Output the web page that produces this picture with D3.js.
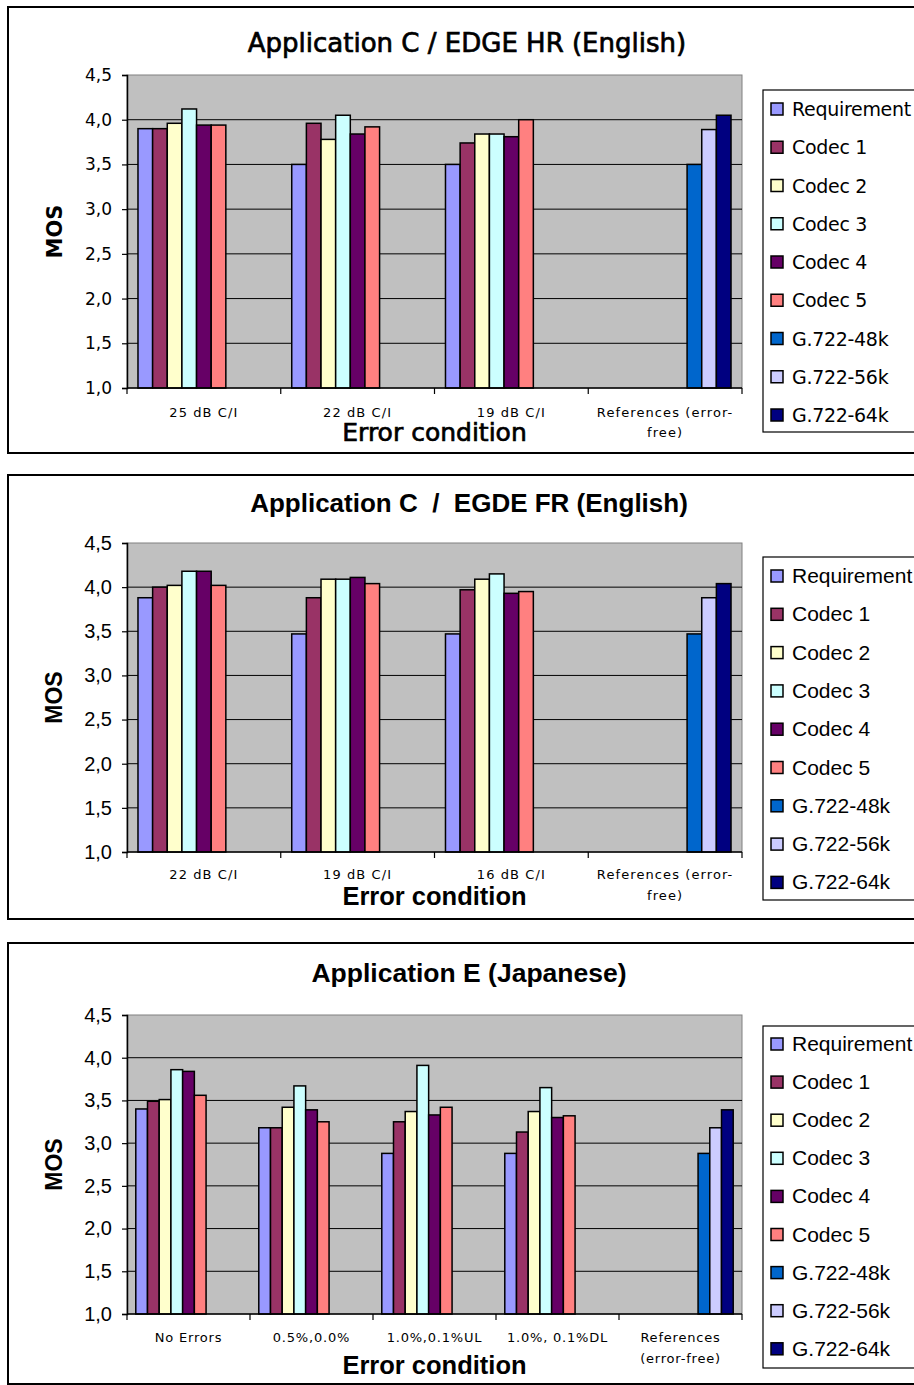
<!DOCTYPE html>
<html><head><meta charset="utf-8">
<script src="https://cdnjs.cloudflare.com/ajax/libs/d3/7.8.5/d3.min.js"></script>
<style>body{margin:0;background:#fff}svg{display:block}</style>
</head><body><svg id="c" width="914" height="1385"></svg>
<script>
// ---------- DATA ----------
const seriesNames = ["Requirement","Codec 1","Codec 2","Codec 3","Codec 4","Codec 5","G.722-48k","G.722-56k","G.722-64k"];
const seriesColors = ["#9999FF","#993366","#FFFFCC","#CCFFFF","#660066","#FF8080","#0066CC","#CCCCFF","#000080"];
const yTickValues = [1.0,1.5,2.0,2.5,3.0,3.5,4.0,4.5];

const chart1Title = "Application C / EDGE HR (English)";
const chart1Categories = ["25 dB C/I","22 dB C/I","19 dB C/I","References (error-free)"];
const chart1Labels = [["25 dB C/I"],["22 dB C/I"],["19 dB C/I"],["References (error-","free)"]];
const chart1Values = [ // rows = series, columns = categories
  [3.90, 3.50, 3.50, null],
  [3.90, 3.96, 3.74, null],
  [3.96, 3.78, 3.84, null],
  [4.12, 4.05, 3.84, null],
  [3.94, 3.84, 3.81, null],
  [3.94, 3.92, 4.00, null],
  [null, null, null, 3.50],
  [null, null, null, 3.89],
  [null, null, null, 4.05]
];

const chart2Title = "Application C  /  EGDE FR (English)";
const chart2Categories = ["22 dB C/I","19 dB C/I","16 dB C/I","References (error-free)"];
const chart2Labels = [["22 dB C/I"],["19 dB C/I"],["16 dB C/I"],["References (error-","free)"]];
const chart2Values = [
  [3.88, 3.47, 3.47, null],
  [4.00, 3.88, 3.97, null],
  [4.02, 4.09, 4.09, null],
  [4.18, 4.09, 4.15, null],
  [4.18, 4.11, 3.93, null],
  [4.02, 4.04, 3.95, null],
  [null, null, null, 3.47],
  [null, null, null, 3.88],
  [null, null, null, 4.04]
];

const chart3Title = "Application E (Japanese)";
const chart3Categories = ["No Errors","0.5%,0.0%","1.0%,0.1%UL","1.0%, 0.1%DL","References (error-free)"];
const chart3Labels = [["No Errors"],["0.5%,0.0%"],["1.0%,0.1%UL"],["1.0%, 0.1%DL"],["References","(error-free)"]];
const chart3Values = [
  [3.40, 3.18, 2.88, 2.88, null],
  [3.49, 3.18, 3.25, 3.13, null],
  [3.51, 3.42, 3.37, 3.37, null],
  [3.86, 3.67, 3.91, 3.65, null],
  [3.84, 3.39, 3.33, 3.30, null],
  [3.56, 3.25, 3.42, 3.32, null],
  [null, null, null, null, 2.88],
  [null, null, null, null, 3.18],
  [null, null, null, null, 3.39]
];

const yAxisTitle = "MOS";
const xAxisTitle = "Error condition";

// ---------- DRAW ----------
const svg = d3.select("#c");
svg.append("rect").attr("width",914).attr("height",1385).attr("fill","#fff");
const fmt = d3.formatLocale({decimal:",",thousands:".",grouping:[3],currency:["","€"]}).format(".1f");

function drawChart(cfg){
  const g = svg.append("g");
  g.append("rect").attr("x",8).attr("y",cfg.boxTop).attr("width",940).attr("height",cfg.boxBottom-cfg.boxTop)
    .attr("fill","#fff").attr("stroke","#000").attr("stroke-width",2);
  const L=127, R=742;
  const x = d3.scaleBand().domain(cfg.categories).range([L,R]).paddingInner(0).paddingOuter(0);
  const xs = d3.scaleBand().domain(seriesNames).range([0,x.bandwidth()]).paddingInner(0).paddingOuter(0.75);
  const y = d3.scaleLinear().domain([1,4.5]).range([cfg.plotBottom,cfg.plotTop]);
  g.append("rect").attr("x",L).attr("y",cfg.plotTop).attr("width",R-L).attr("height",cfg.plotBottom-cfg.plotTop)
    .attr("fill","#C0C0C0").attr("stroke","#808080").attr("stroke-width",1);
  g.selectAll(".grid").data(yTickValues.filter(v=>v>1 && v<4.5)).join("line")
    .attr("x1",L).attr("x2",R).attr("y1",d=>y(d)).attr("y2",d=>y(d))
    .attr("stroke","#000").attr("stroke-width",1);
  cfg.values.forEach((row,si)=>{
    g.selectAll(null).data(row.map((v,ci)=>({v,c:cfg.categories[ci]})).filter(d=>d.v!=null)).join("rect")
      .attr("x",d=>x(d.c)+xs(seriesNames[si]))
      .attr("y",d=>y(d.v))
      .attr("width",xs.bandwidth())
      .attr("height",d=>y(1)-y(d.v))
      .attr("fill",seriesColors[si]).attr("stroke","#000").attr("stroke-width",1.5);
  });
  const ya = g.append("g").attr("transform",`translate(${L},0)`)
    .call(d3.axisLeft(y).tickValues(yTickValues).tickFormat(fmt).tickSize(5).tickPadding(10));
  ya.select(".domain").attr("stroke","#000").attr("stroke-width",1.5);
  ya.selectAll(".tick line").attr("stroke","#000").attr("stroke-width",1.2);
  ya.selectAll(".tick text").attr("font-family",cfg.tickFont).attr("font-size",cfg.tickSize).attr("fill","#000");
  g.append("line").attr("x1",L).attr("x2",R).attr("y1",y(1)).attr("y2",y(1)).attr("stroke","#000").attr("stroke-width",1.5);
  const bounds = cfg.categories.map(c=>x(c)).concat([R]);
  g.selectAll(null).data(bounds).join("line").attr("x1",d=>d).attr("x2",d=>d)
    .attr("y1",y(1)).attr("y2",y(1)+6).attr("stroke","#000").attr("stroke-width",1.2);
  cfg.categories.forEach((c,i)=>{
    cfg.labels[i].forEach((ln,j)=>{
      g.append("text").attr("x",x(c)+x.bandwidth()/2).attr("y",cfg.catY+j*cfg.catLine)
        .attr("text-anchor","middle").attr("font-family","DejaVu Sans").attr("font-size",13)
        .attr("letter-spacing",cfg.catSpacing).attr("fill","#000").text(ln);
    });
  });
  g.append("text").attr("x",cfg.titleX).attr("y",cfg.titleY).attr("text-anchor","middle")
    .attr("font-family",cfg.titleFont).attr("font-weight",cfg.titleWeight).attr("font-size",cfg.titleSize)
    .attr("stroke",cfg.titleStroke?"#000":"none").attr("stroke-width",cfg.titleStroke||0)
    .style("white-space","pre").attr("fill","#000").text(cfg.title);
  g.append("text").attr("x",(L+R)/2).attr("y",cfg.xTitleY).attr("text-anchor","middle")
    .attr("font-family",cfg.titleFont).attr("font-weight",cfg.titleWeight).attr("font-size",cfg.xTitleSize)
    .attr("stroke",cfg.titleStroke?"#000":"none").attr("stroke-width",cfg.titleStroke||0)
    .attr("fill","#000").text(xAxisTitle);
  g.append("text").attr("transform",`translate(62,${(cfg.plotTop+cfg.plotBottom)/2}) rotate(-90)`)
    .attr("text-anchor","middle").attr("font-family",cfg.mosFont).attr("font-weight","bold").attr("font-size",cfg.mosSize)
    .attr("fill","#000").text(yAxisTitle);
  g.append("rect").attr("x",763).attr("y",cfg.legTop).attr("width",200).attr("height",cfg.legBottom-cfg.legTop)
    .attr("fill","#fff").attr("stroke","#000").attr("stroke-width",1.2);
  seriesNames.forEach((s,i)=>{
    const cy = cfg.legFirst + i*cfg.legStep;
    g.append("rect").attr("x",771).attr("y",cy-6).attr("width",12).attr("height",12)
      .attr("fill",seriesColors[i]).attr("stroke","#000").attr("stroke-width",1.5);
    g.append("text").attr("x",792).attr("y",cy+7).attr("font-family",cfg.legFont).attr("font-size",cfg.legSize)
      .attr("letter-spacing",cfg.legSpacing||0).attr("fill","#000").text(s);
  });
}

drawChart({categories:chart1Categories,labels:chart1Labels,values:chart1Values,title:chart1Title,
  boxTop:7,boxBottom:453,plotTop:75,plotBottom:388,titleX:467,titleY:52,catY:417,catLine:20,catSpacing:1.1,xTitleY:441,
  titleFont:"DejaVu Sans",titleWeight:"normal",titleSize:26,titleStroke:0.7,xTitleSize:25,mosFont:"DejaVu Sans",mosSize:21,
  tickFont:"DejaVu Sans",tickSize:17,legFont:"DejaVu Sans",legSize:19,legSpacing:-0.3,
  legTop:90,legBottom:432,legFirst:109,legStep:38.25});

drawChart({categories:chart2Categories,labels:chart2Labels,values:chart2Values,title:chart2Title,
  boxTop:475,boxBottom:919,plotTop:543,plotBottom:852,titleX:469,titleY:512,catY:879,catLine:21,catSpacing:1.1,xTitleY:905,
  titleFont:"Liberation Sans",titleWeight:"bold",titleSize:26,xTitleSize:25.5,mosFont:"Liberation Sans",mosSize:23,
  tickFont:"Liberation Sans",tickSize:20,legFont:"Liberation Sans",legSize:21,
  legTop:557,legBottom:900,legFirst:576,legStep:38.3});

drawChart({categories:chart3Categories,labels:chart3Labels,values:chart3Values,title:chart3Title,
  boxTop:943,boxBottom:1384,plotTop:1015,plotBottom:1314,titleX:469,titleY:982,catY:1342,catLine:21,catSpacing:0.8,xTitleY:1374,
  titleFont:"Liberation Sans",titleWeight:"bold",titleSize:26.5,xTitleSize:25.5,mosFont:"Liberation Sans",mosSize:23,
  tickFont:"Liberation Sans",tickSize:20,legFont:"Liberation Sans",legSize:21,
  legTop:1026,legBottom:1368,legFirst:1044,legStep:38.1});
</script></body></html>
